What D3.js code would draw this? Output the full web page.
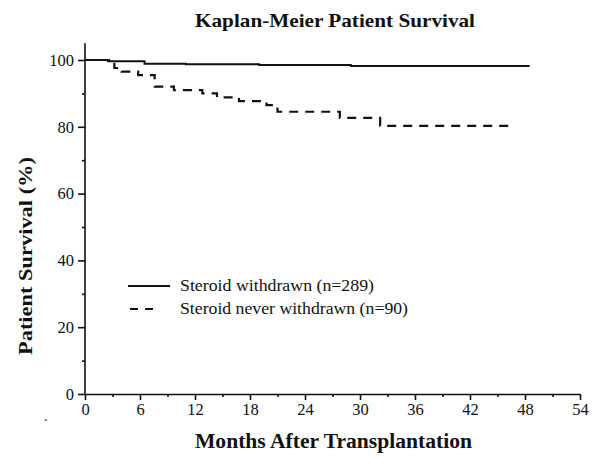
<!DOCTYPE html>
<html>
<head>
<meta charset="utf-8">
<script src="https://cdn.jsdelivr.net/npm/d3@7"></script>
<style>
  body { margin: 0; background: #fff; }
  text { font-family: "Liberation Serif", "Times New Roman", serif; fill: #111; }
  .axis path, .axis line { stroke: #111; stroke-width: 1.6; }
  .axis text { font-size: 16.5px; }
</style>
</head>
<body>
<div id="chart"></div>
<script>
// data
var xTicks = [0, 6, 12, 18, 24, 30, 36, 42, 48, 54];
var yTicks = [0, 20, 40, 60, 80, 100];

var withdrawnMonths = [0, 2.5, 6.5, 11, 19, 29, 48.5];
var withdrawnSurvival = [100, 99.6, 98.9, 98.7, 98.5, 98.2, 98.2];

var neverMonths = [0, 3.2, 4, 5.8, 7.6, 9.7, 12.8, 14.4, 16.8, 19.8, 21, 27.8, 32.2, 46.3];
var neverSurvival = [100, 97.6, 96.5, 95.5, 92.0, 91.0, 90.0, 88.8, 87.7, 86.5, 84.5, 82.7, 80.3, 80.3];

var seriesNames = ["Steroid withdrawn (n=289)", "Steroid never withdrawn (n=90)"];

var svgWidth = 600;
var svgHeight = 465;

var svg = d3.select("#chart")
    .append("svg")
    .attr("width", svgWidth)
    .attr("height", svgHeight);

// scales
var x = d3.scaleLinear().domain([0, 54]).range([85, 580]);
var y = d3.scaleLinear().domain([0, 100]).range([394, 60]);

// axes
svg.append("g")
    .attr("class", "axis")
    .attr("transform", `translate(0, ${y(0)})`)
    .call(d3.axisBottom(x).tickValues(xTicks).tickSize(6).tickSizeOuter(0).tickPadding(3));

svg.append("g")
    .attr("class", "axis")
    .attr("transform", `translate(0, ${y(0)})`)
    .call(d3.axisBottom(x).tickValues(d3.range(3, 54, 6)).tickSize(3).tickFormat(""))
    .select(".domain").remove();

var yAxis = svg.append("g")
    .attr("class", "axis")
    .attr("transform", `translate(${x(0)}, 0)`)
    .call(d3.axisLeft(y).tickValues(yTicks).tickSize(7).tickPadding(4));
yAxis.select(".domain").remove();

svg.append("g")
    .attr("class", "axis")
    .attr("transform", `translate(${x(0)}, 0)`)
    .call(d3.axisLeft(y).tickValues(d3.range(10, 100, 20)).tickSize(3).tickFormat(""))
    .select(".domain").remove();

// y axis line runs a little above 100
svg.append("line")
    .attr("x1", x(0)).attr("x2", x(0))
    .attr("y1", y(0)).attr("y2", y(105))
    .attr("stroke", "#111")
    .attr("stroke-width", 1.6);

// survival curves
var line = d3.line()
    .x(d => x(d[0]))
    .y(d => y(d[1]))
    .curve(d3.curveStepAfter);

var withdrawn = withdrawnMonths.map((m, i) => [m, withdrawnSurvival[i]]);
var never = neverMonths.map((m, i) => [m, neverSurvival[i]]);

svg.append("path")
    .datum(withdrawn)
    .attr("d", line)
    .attr("fill", "none")
    .attr("stroke", "#111")
    .attr("stroke-width", 2);

svg.append("path")
    .datum(never)
    .attr("d", line)
    .attr("fill", "none")
    .attr("stroke", "#111")
    .attr("stroke-width", 2.2)
    .attr("stroke-dasharray", "9,7");

// legend
var legend = svg.append("g");
legend.append("line")
    .attr("x1", 128).attr("x2", 170)
    .attr("y1", 286).attr("y2", 286)
    .attr("stroke", "#111").attr("stroke-width", 2);
legend.append("line")
    .attr("x1", 130).attr("x2", 154)
    .attr("y1", 309).attr("y2", 309)
    .attr("stroke", "#111").attr("stroke-width", 2.2)
    .attr("stroke-dasharray", "8,7");
legend.selectAll("text.leg")
    .data(seriesNames)
    .enter()
    .append("text")
    .attr("class", "leg")
    .attr("x", 180)
    .attr("y", (d, i) => 291 + i * 23)
    .attr("textLength", (d, i) => i == 0 ? 194 : 228)
    .attr("lengthAdjust", "spacingAndGlyphs")
    .style("font-size", "16px")
    .text(d => d);

// titles
svg.append("text")
    .attr("x", 195)
    .attr("y", 27)
    .attr("textLength", 280)
    .attr("lengthAdjust", "spacingAndGlyphs")
    .style("font-size", "19px")
    .style("font-weight", "bold")
    .text("Kaplan-Meier Patient Survival");

svg.append("text")
    .attr("x", 195)
    .attr("y", 448)
    .attr("textLength", 277)
    .attr("lengthAdjust", "spacingAndGlyphs")
    .style("font-size", "20px")
    .style("font-weight", "bold")
    .text("Months After Transplantation");

svg.append("text")
    .attr("transform", "translate(32, 355) rotate(-90)")
    .attr("textLength", 198)
    .attr("lengthAdjust", "spacingAndGlyphs")
    .style("font-size", "19px")
    .style("font-weight", "bold")
    .text("Patient Survival (%)");

// stray dot in the scan
svg.append("text")
    .attr("x", 44)
    .attr("y", 421)
    .style("font-size", "14px")
    .text(".");
</script>
</body>
</html>
